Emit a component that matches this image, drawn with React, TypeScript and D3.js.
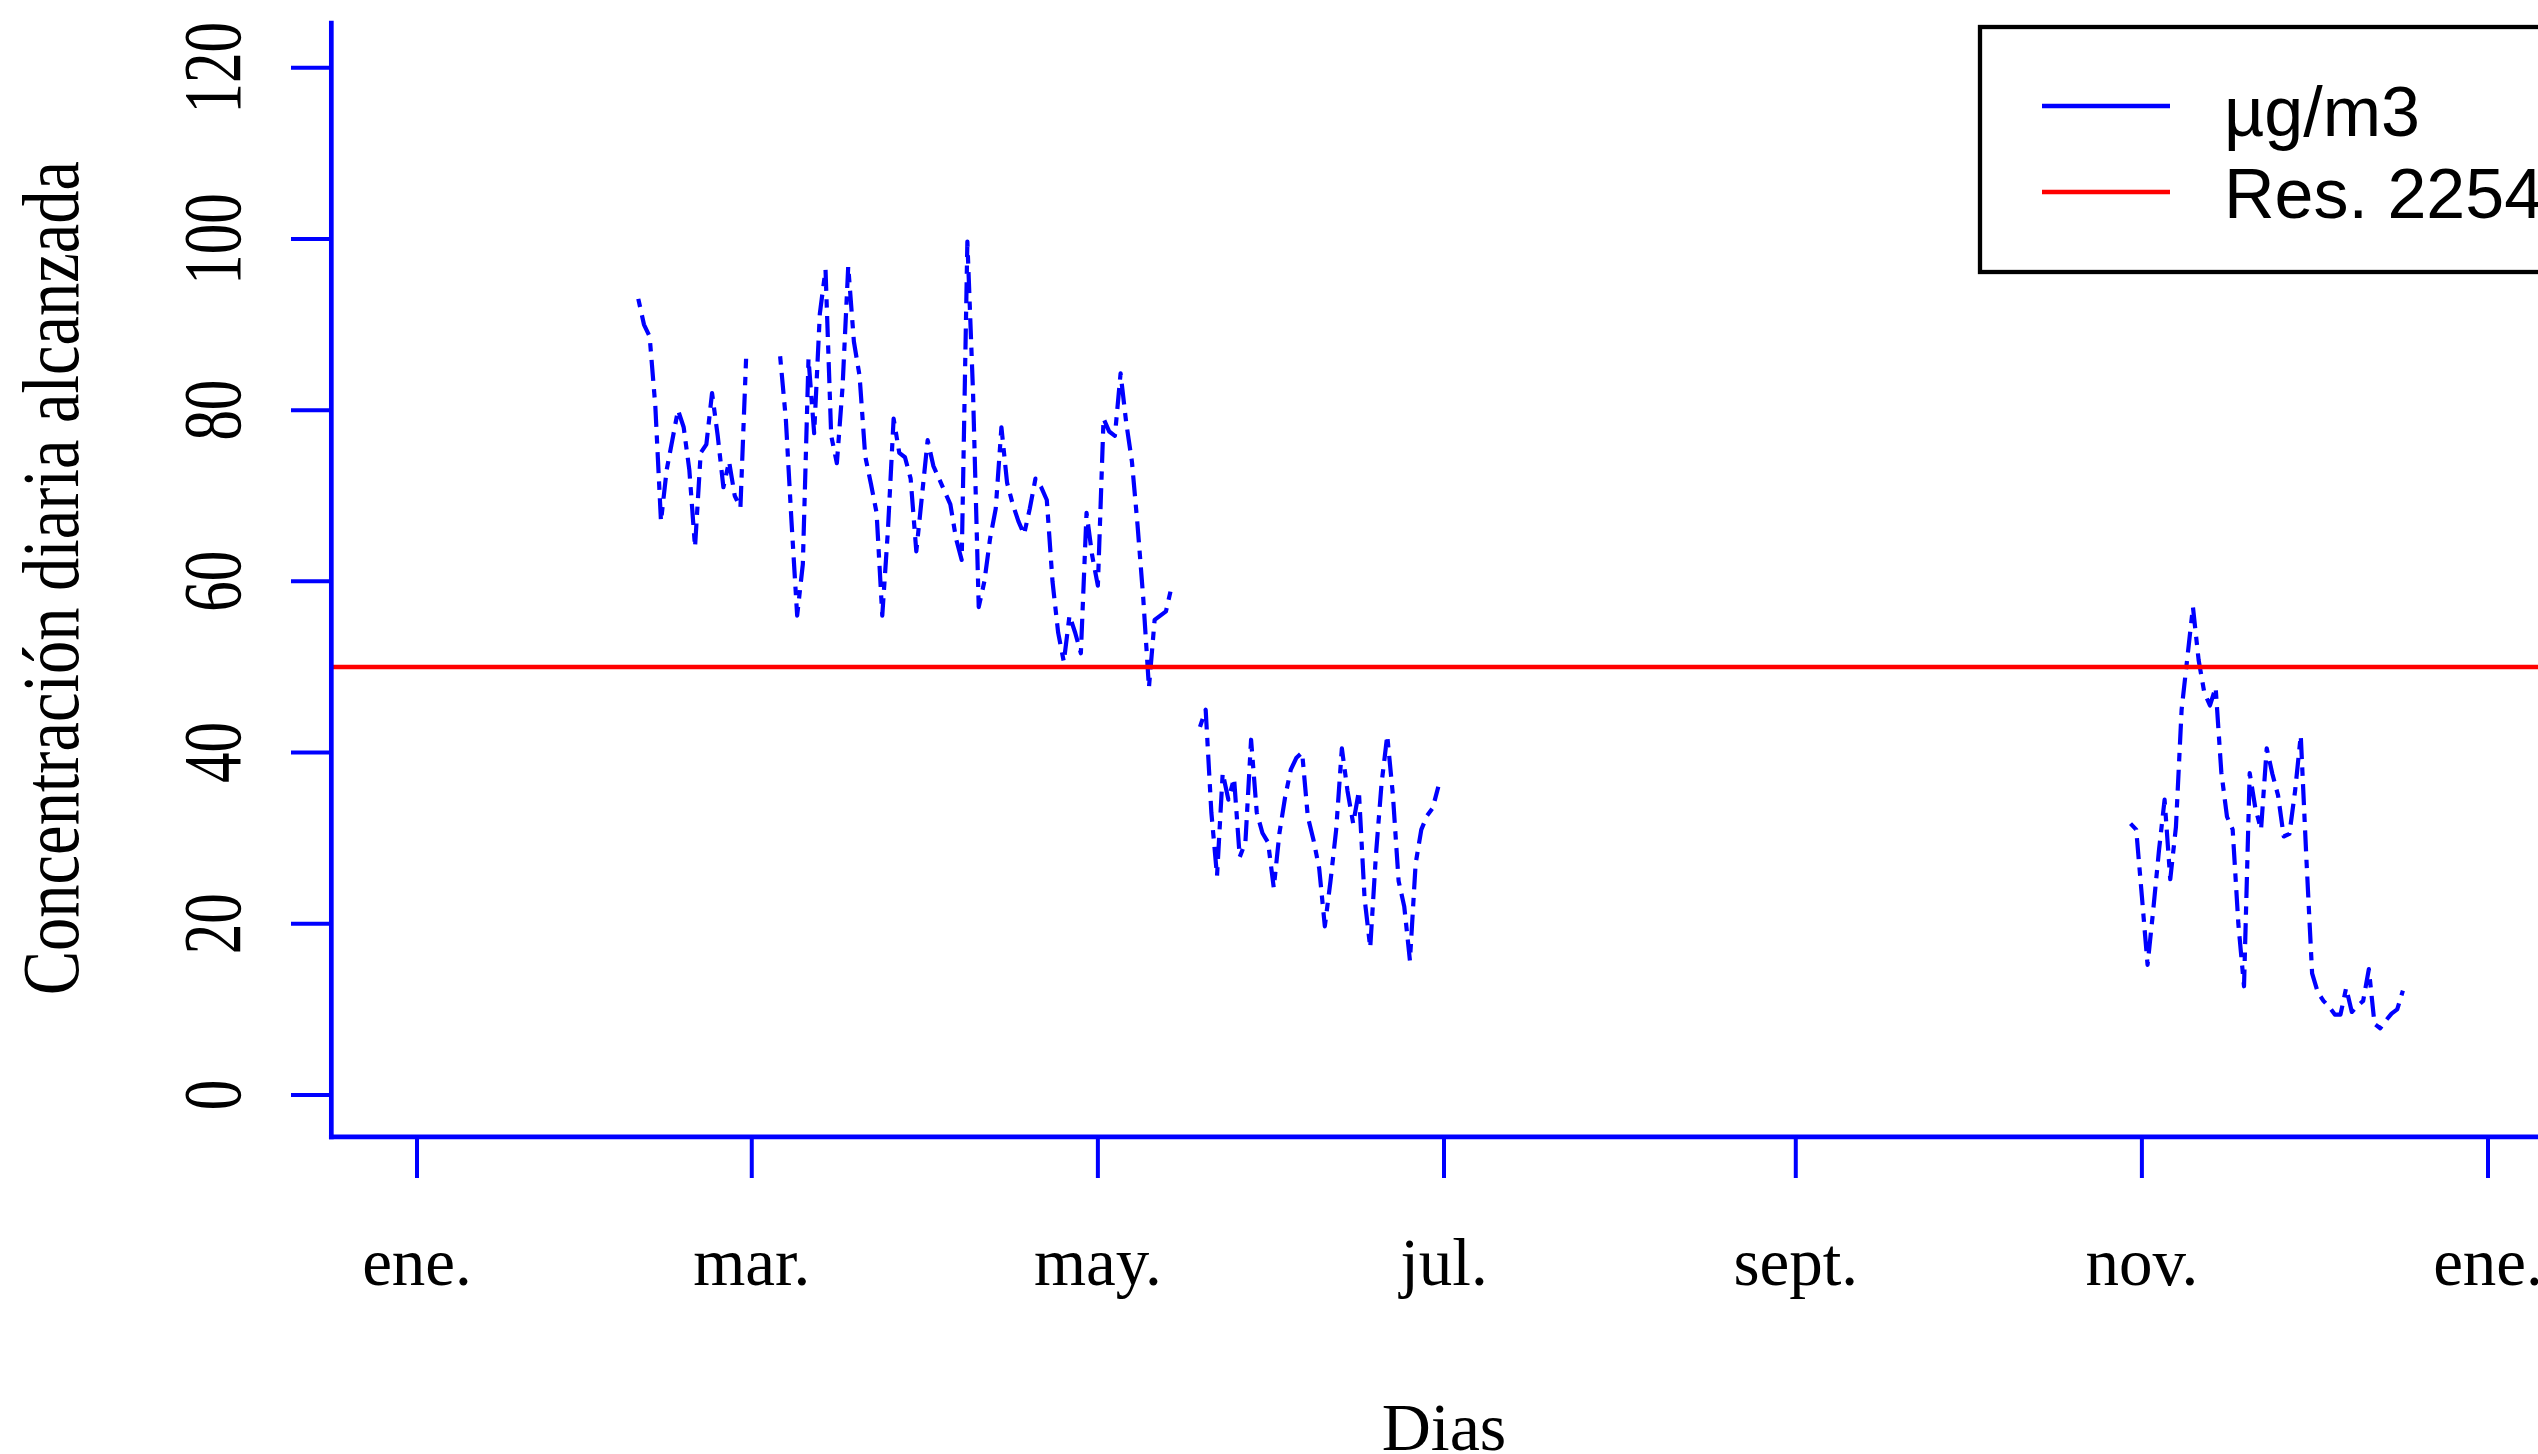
import React from "react";
import * as d3 from "d3";

const W = 2538;
const H = 1454;

// ---- data ----
const monthTicks = ["2019-01-01", "2019-03-01", "2019-05-01", "2019-07-01", "2019-09-01", "2019-11-01", "2020-01-01"];
const monthLabels = ["ene.", "mar.", "may.", "jul.", "sept.", "nov.", "ene."];
const yTicks = [0, 20, 40, 60, 80, 100, 120];
const limitValue = 50;
const legendLabels = ["µg/m3", "Res. 2254"];

// daily concentrations, each run of consecutive days starts at the given date
const segStarts = ["2019-02-09", "2019-03-06", "2019-05-19", "2019-10-30"];
const segFeb = [93, 90, 88.6, 80.5, 67, 73, 76.5, 80, 78, 73, 64, 75, 76, 82, 77, 71, 74, 70, 68.6, 86];
const segMarMay = [
  86.3, 79, 67, 56, 62, 86, 77.3, 91.3, 96.4, 77, 73.8, 82.7, 96.8, 88, 84, 74.6, 71.4, 68, 56, 66,
  79, 75, 74.5, 72, 63.5, 70, 76.5, 73.5, 72, 70.5, 69, 65, 62.5, 99.7, 82, 57, 60, 65, 68.5, 78,
  71.5, 69, 67, 65.5, 68.5, 72, 71, 69.5, 60, 54, 50.6, 56, 54, 51.6, 68, 63, 59.5, 79, 77.5, 77,
  84.3, 78.5, 74, 66.5, 58, 47.6, 55.5, 56, 56.5, 59.4,
];
const segMayJun = [
  43, 45, 33, 25.6, 37.6, 34.5, 37, 27.8, 29.5, 41.5, 33, 30.6, 29.5, 24.2, 30.6, 34.8, 38, 39.4, 40, 32.5,
  29.8, 26.5, 19.7, 25, 31, 40.5, 35.5, 31.7, 35.5, 23, 17.2, 28, 36.4, 42, 35, 25, 22, 15.7, 27, 31,
  32.6, 33.5, 36,
];
const segNovDec = [
  31.7, 31, 23.2, 15.2, 21.6, 28.5, 34.5, 25.2, 31.3, 45, 51, 57, 50.8, 47, 45.5, 47.6, 37.7, 32.5, 31, 20,
  12.7, 37.6, 33.5, 31, 40.5, 37.5, 35, 30.2, 30.5, 35.5, 42, 27.5, 14.2, 12, 11, 10.3, 9.4, 9.4, 12.5, 9.7,
  10.4, 11, 14.7, 8.3, 7.8, 8.7, 9.5, 10, 12.2,
];
const segValues = [segFeb, segMarMay, segMayJun, segNovDec];

const parse = d3.timeParse("%Y-%m-%d");

export default function App() {
  const tickDates = monthTicks.map((s) => parse(s) as Date);
  const x = d3.scaleTime().domain([tickDates[0], tickDates[tickDates.length - 1]]).range([417, 2488]);
  const y = d3.scaleLinear().domain([0, 120]).range([1095, 67.7]);

  const dayMs = 864e5;
  const x0 = tickDates[0].getTime();
  const xLeft = x(new Date(x0 - 15.1 * dayMs));
  const yTop = y(125.2);
  const yBottom = y(-4.9);

  const series = segStarts.map((s, i) => {
    const start = parse(s) as Date;
    return segValues[i].map((v, k) => ({ date: d3.timeDay.offset(start, k), v }));
  });

  const line = d3
    .line<{ date: Date; v: number }>()
    .x((d) => x(d.date))
    .y((d) => y(d.v));

  const serif = "'Liberation Serif', 'Times New Roman', serif";
  const sans = "'Liberation Sans', Arial, sans-serif";
  const blue = "#0000ff";
  const red = "#ff0000";

  return (
    <svg
      width={W}
      height={H}
      viewBox={`0 0 ${W} ${H}`}
      style={{ position: "absolute", left: 0, top: 0, display: "block", background: "#fff" }}
    >
      <rect x={0} y={0} width={W} height={H} fill="#fff" />

      {/* data */}
      {series.map((seg, i) => (
        <path
          key={i}
          d={line(seg) || ""}
          fill="none"
          stroke={blue}
          strokeWidth={4.2}
          strokeDasharray="8.4,8.4,21,8.4"
          strokeLinejoin="round"
        />
      ))}

      {/* limit line */}
      <line x1={xLeft} x2={W + 50} y1={y(limitValue)} y2={y(limitValue)} stroke={red} strokeWidth={4.5} />

      {/* axes box (L) */}
      <line x1={xLeft} x2={xLeft} y1={yTop} y2={yBottom} stroke={blue} strokeWidth={4.7} strokeLinecap="square" />
      <line x1={xLeft} x2={W + 50} y1={yBottom} y2={yBottom} stroke={blue} strokeWidth={4.7} strokeLinecap="square" />

      {/* y ticks */}
      {yTicks.map((t) => (
        <g key={t}>
          <line x1={291} x2={xLeft} y1={y(t)} y2={y(t)} stroke={blue} strokeWidth={4} />
          <text
            transform={`translate(240,${y(t)}) scale(1.36,1) rotate(-90)`}
            textAnchor="middle"
            fontFamily={serif}
            fontSize={61}
            fill="#000"
          >
            {t}
          </text>
        </g>
      ))}

      {/* x ticks */}
      {tickDates.map((d, i) => (
        <g key={i}>
          <line x1={x(d)} x2={x(d)} y1={yBottom} y2={1178} stroke={blue} strokeWidth={4} />
          <text x={x(d)} y={1285} textAnchor="middle" fontFamily={serif} fontSize={67} fill="#000">
            {monthLabels[i]}
          </text>
        </g>
      ))}

      {/* axis titles */}
      <text
        transform={`translate(78,${(yTop + yBottom) / 2 - 2}) scale(1.2,1) rotate(-90)`}
        textAnchor="middle"
        fontFamily={serif}
        fontSize={66.5}
        fill="#000"
      >
        Concentración diaria alcanzada
      </text>
      <text x={1444} y={1450} textAnchor="middle" fontFamily={serif} fontSize={68} fill="#000">
        Dias
      </text>

      {/* legend */}
      <rect x={1980} y={27} width={640} height={245} fill="#fff" stroke="#000" strokeWidth={4.3} />
      <line x1={2042} x2={2170} y1={106} y2={106} stroke={blue} strokeWidth={4.5} />
      <line x1={2042} x2={2170} y1={192} y2={192} stroke={red} strokeWidth={4.5} />
      <text x={2224} y={136} fontFamily={sans} fontSize={70} fill="#000">
        {legendLabels[0]}
      </text>
      <text x={2224} y={218} fontFamily={sans} fontSize={70} fill="#000">
        {legendLabels[1]}
      </text>
    </svg>
  );
}
